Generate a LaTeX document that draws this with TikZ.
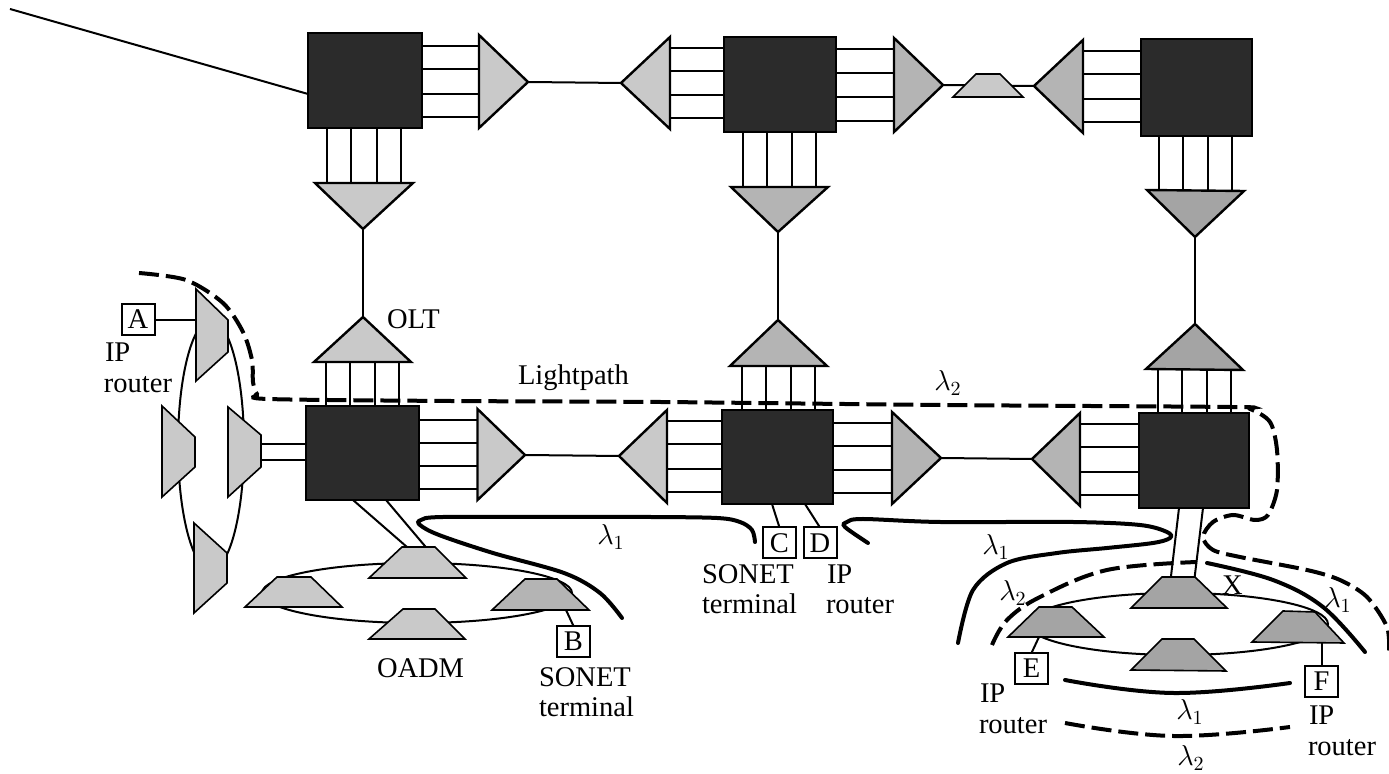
\documentclass[tikz,border=0pt]{standalone}
\usepackage{fontspec}
\setmainfont{Liberation Serif}
\usetikzlibrary{calc}
\definecolor{gl}{HTML}{C9C9C9}
\definecolor{gm}{HTML}{B4B4B4}
\definecolor{gd}{HTML}{A4A4A4}
\definecolor{bk}{HTML}{2B2B2B}
\tikzset{
  wire/.style={line width=1pt,black},
  shp/.style={line width=1.2pt,black,line join=miter},
  thinshp/.style={line width=.8pt,black},
  blackbox/.style={rectangle,draw=black,line width=.6pt,fill=bk,inner sep=0pt,outer sep=0pt},
  lab/.style={font=\fontsize{14.25}{16}\selectfont,inner sep=0pt,outer sep=0pt,anchor=base west},
  lam/.style={font=\fontsize{14.25}{16}\selectfont,inner sep=0pt,outer sep=0pt},
  tbox/.style={rectangle,draw=black,line width=1pt,fill=white,font=\fontsize{14.25}{16}\selectfont,inner sep=0pt,outer sep=0pt,minimum width=16.5pt,minimum height=15.5pt},
  sol/.style={line width=2pt,black,line cap=round},
  dsh/.style={line width=2pt,black,dash pattern=on 10pt off 3.5pt}
}
% triangle: apex a, base b-c
\newcommand\tria[5]{%
  \coordinate (#1-a) at (#3);\coordinate (#1-b) at (#4);\coordinate (#1-c) at (#5);
  \draw[shp,fill=#2] (#1-a) -- (#1-b) -- (#1-c) -- cycle;}
% trapezoid
\newcommand\trap[6]{%
  \coordinate (#1-a) at (#3);\coordinate (#1-b) at (#4);\coordinate (#1-c) at (#5);\coordinate (#1-d) at (#6);
  \draw[thinshp,fill=#2] (#1-a) -- (#1-b) -- (#1-c) -- (#1-d) -- cycle;}
\newcommand\hbus[2]{\foreach \f in {.12,.37,.63,.88}{\draw[wire] ($(#1-b)!\f!(#1-c)$) coordinate (tmp) -- (tmp -| #2);}}
\newcommand\vbus[2]{\foreach \f in {.12,.37,.63,.88}{\draw[wire] ($(#1-b)!\f!(#1-c)$) coordinate (tmp) -- (tmp |- #2);}}
\begin{document}
\begin{tikzpicture}[x=.5pt,y=-.5pt]
\useasboundingbox (0,0) rectangle (1389,774);
\fill[white] (0,0) rectangle (1389,774);

% rings
\draw[wire] (211,445) ellipse (33 and 125);
\draw[wire] (417,593) ellipse (155 and 30);
\draw[wire] (1178,624) ellipse (150 and 31);

% switches
\node[blackbox,minimum width=57pt,minimum height=47.5pt] (B1) at (365,80.5) {};
\node[blackbox,minimum width=56pt,minimum height=47.5pt] (B2) at (780,84.5) {};
\node[blackbox,minimum width=55.5pt,minimum height=48.5pt] (B3) at (1196.5,87.5) {};
\node[blackbox,minimum width=56.5pt,minimum height=47pt] (B4) at (362.5,453) {};
\node[blackbox,minimum width=55.5pt,minimum height=47pt] (B5) at (777.5,457) {};
\node[blackbox,minimum width=55pt,minimum height=47.5pt] (B6) at (1194,460.5) {};

% buses (under the triangles)
\coordinate (T1-b) at (479,35);\coordinate (T1-c) at (479,128);
\tria{T1}{gl}{528,82}{479,35}{479,128}
\tria{T2}{gl}{621,83}{670,37}{670,129}
\tria{T3}{gm}{943,85}{894,38}{894,132}
\tria{T4}{gm}{1034,86}{1083,40}{1083,133}
\tria{D1}{gl}{363,229}{315,183}{413,183}
\tria{D2}{gm}{778,232}{731,187}{828,187}
\tria{D3}{gd}{1195,237}{1147,190}{1244,191}
\tria{U1}{gl}{363,317}{314,362}{411,362}
\tria{U2}{gm}{778,320}{730,366}{827,366}
\tria{U3}{gd}{1195,324}{1146,369}{1243,370}
\tria{T5}{gl}{525,455}{477.5,409}{477.5,500}
\tria{T6}{gl}{619,456}{667,410}{667,503}
\tria{T7}{gm}{941,458}{892,412}{892,504}
\tria{T8}{gm}{1032,459}{1080,413}{1080,506}

\hbus{T1}{B1.east}
\hbus{T2}{B2.west}
\hbus{T3}{B2.east}
\hbus{T4}{B3.west}
\hbus{T5}{B4.east}
\hbus{T6}{B5.west}
\hbus{T7}{B5.east}
\hbus{T8}{B6.west}
\vbus{D1}{B1.south}
\vbus{D2}{B2.south}
\vbus{D3}{B3.south}
\vbus{U1}{B4.north}
\vbus{U2}{B5.north}
\vbus{U3}{B6.north}

% fibres between OLTs
\coordinate (P1) at (308,94);
\coordinate (P0) at (10,9);
\draw[wire] (P0) -- (P1);
\draw[wire] (T1-a) -- (T2-a);
\draw[wire] (D1-a) -- (U1-a);
\draw[wire] (D2-a) -- (U2-a);
\draw[wire] (D3-a) -- (U3-a);
\draw[wire] (T5-a) -- (T6-a);
\draw[wire] (T7-a) -- (T8-a);
\draw[wire] (T3-a) -- (T4-a);

% OADMs
\trap{S0}{gl}{953,97}{1023,97}{1000,74}{976,74}
\trap{L1}{gl}{196,289}{196,381}{228,352}{228,320}
\trap{L2}{gl}{162,406}{162,497}{195,467}{195,437}
\trap{L3}{gl}{228,407}{228,497}{261,467}{261,435}
\trap{L4}{gl}{194,523}{194,613}{227,583}{227,553}
\trap{M1}{gl}{369,578}{466,578}{435,547}{402,547}
\trap{M2}{gl}{245,607}{342,607}{311,577}{277,577}
\trap{M3}{gm}{492,610}{589,610}{557,579}{525,579}
\trap{M4}{gl}{369,639}{465,639}{435,609}{403,609}
\trap{R1}{gd}{1131,608}{1227,608}{1195,577}{1162,577}
\trap{R2}{gd}{1008,637}{1104,637}{1072,607}{1039,607}
\trap{R3}{gd}{1252,642}{1344,643}{1315,612}{1283,611}
\trap{R4}{gd}{1131,670}{1226,671}{1194,639}{1162,639}

% OADM to switch
\coordinate (a1) at (261,444);\coordinate (a2) at (261,460);
\draw[wire] (a1) -- (a1 -| B4.west);
\draw[wire] (a2) -- (a2 -| B4.west);
\coordinate (c1) at (353,500);\coordinate (c2) at (386,500);
\draw[wire] (c1) -- ($(M1-d)!.15!(M1-c)$);
\draw[wire] (c2) -- ($(M1-d)!.72!(M1-c)$);
\coordinate (c3) at (1179,508);\coordinate (c4) at (1203,508);
\draw[wire] (c3) -- ($(R1-d)!.27!(R1-c)$);
\draw[wire] (c4) -- ($(R1-d)!.99!(R1-c)$);

% terminals
\node[tbox] (A) at (138,319.5) {A};
\node[tbox] (B) at (573.5,641.5) {B};
\node[tbox] (C) at (779.5,543) {C};
\node[tbox] (D) at (820,543) {D};
\node[tbox] (E) at (1031.5,668.5) {E};
\node[tbox] (F) at (1321.5,681.5) {F};
\coordinate (Ab) at (196,320);
\draw[wire] (A.east |- Ab) -- (Ab);
\coordinate (Bb) at (566,610);
\draw[wire] (Bb) -- (B.north);
\coordinate (Cb) at (772,504);\coordinate (Db) at (805,504);
\draw[wire] (Cb) -- (C.north);
\draw[wire] (Db) -- (D.north);
\coordinate (Eb) at (1039,637);
\draw[wire] (Eb) -- (E.north);
\coordinate (Fb) at (1321.5,643);
\draw[wire] (Fb) -- (F.north);

% lambda 1 (solid)
\draw[sol] plot[smooth,tension=.55] coordinates {(622,618) (600,593) (564,573) (493,553) (439,535) (420,525) (421,520) (443,517) (564,517) (650,517) (717,518) (740,522) (752,530) (755,542)};
\draw[sol] plot[smooth,tension=.55] coordinates {(868,543) (845,527) (847,522) (863,519) (940,522) (1073,522) (1140,525) (1167,532) (1170,538) (1153,543) (1107,548) (1057,553) (1007,563) (973,590) (958,643)};
\draw[sol] plot[smooth,tension=.6] coordinates {(1207,563) (1273,580) (1323,607) (1365,652)};
\draw[sol] plot[smooth,tension=.7] coordinates {(1065,680) (1173,693) (1290,683)};

% lambda 2 (dashed)
\draw[dsh] plot[smooth,tension=.5] coordinates {(139,273) (186,280) (223,303) (243,332) (252,360) (253,382) (257,394) (268,399) (450,401) (660,402) (940,405) (1230,407) (1250,409) (1270,422) (1277,450) (1277,490) (1268,515) (1255,520) (1233,515) (1213,522) (1203,537) (1213,550) (1240,557) (1307,570) (1340,580) (1367,597) (1387,627) (1389,653)};
\draw[dsh] plot[smooth,tension=.6] coordinates {(992,645) (1007,620) (1040,597) (1107,570) (1197,562)};
\draw[dsh] plot[smooth,tension=.7] coordinates {(1065,723) (1173,736) (1290,727)};

% labels
\node[lab] (t1) at (105,362) {IP};
\node[lab] (t2) at (104,393) {router};
\node[lab] (t3) at (387,329) {OLT};
\node[lab] (t4) at (518,385) {Lightpath};
\node[lab] (t5) at (377,678) {OADM};
\node[lab] (t6) at (539,687) {SONET};
\node[lab] (t7) at (539,717) {terminal};
\node[lab] (t8) at (702,584) {SONET};
\node[lab] (t9) at (702,614) {terminal};
\node[lab] (t10) at (827,584) {IP};
\node[lab] (t11) at (826,614) {router};
\node[lab] (t12) at (980,703) {IP};
\node[lab] (t13) at (979,734) {router};
\node[lab] (t14) at (1309,725) {IP};
\node[lab] (t15) at (1308,756) {router};
\node[lab] (t16) at (1222,595) {X};
\node[lam] (l1) at (948,383) {$\lambda_2$};
\node[lam] (l2) at (611,537) {$\lambda_1$};
\node[lam] (l3) at (996,547) {$\lambda_1$};
\node[lam] (l4) at (1013,593) {$\lambda_2$};
\node[lam] (l5) at (1338,600) {$\lambda_1$};
\node[lam] (l6) at (1190,712) {$\lambda_1$};
\node[lam] (l7) at (1191,758) {$\lambda_2$};
\end{tikzpicture}
\end{document}
